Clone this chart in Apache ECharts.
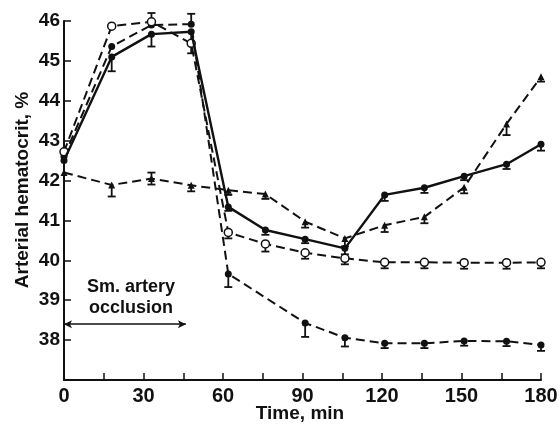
<!DOCTYPE html>
<html><head><meta charset="utf-8">
<script src="https://cdn.jsdelivr.net/npm/echarts@6/dist/echarts.min.js"></script>
<style>html,body{margin:0;padding:0;background:#fff}#c{width:559px;height:426px}</style>
</head><body><div id="c"></div>
<script>
// Sampling times (min)
const times = [0, 18, 33, 48, 62, 76, 91, 106, 121, 136, 151, 167, 180];

// Series values (arterial hematocrit, %)
const solidDots   = [42.50, 45.10, 45.67, 45.73, 41.34, 40.76, 40.53, 40.30, 41.64, 41.82, 42.11, 42.41, 42.91];
const openCircles = [42.72, 45.87, 45.98, 45.44, 40.70, 40.41, 40.19, 40.05, 39.95, 39.95, 39.94, 39.94, 39.95];
const dashedDots  = [42.60, 45.36, 45.90, 45.92, 39.66, null, 38.43, 38.06, 37.92, 37.92, 37.98, 37.97, 37.88];
const triangles   = [42.20, 41.89, 42.05, 41.88, 41.76, 41.66, 40.97, 40.55, 40.88, 41.09, 41.83, 43.42, 44.60];

// Error bars (minus / plus)
const solidMinus = [0, 0.36, 0.31, 0.30, 0.10, 0.12, 0.10, 0.15, 0.15, 0.13, 0.10, 0.12, 0.16];
const solidPlus  = [0, 0, 0, 0, 0, 0, 0, 0, 0, 0, 0, 0, 0];
const openMinus  = [0, 0, 0, 0.25, 0.15, 0.19, 0.15, 0.15, 0.15, 0.15, 0.15, 0.15, 0.15];
const openPlus   = [0, 0, 0.22, 0, 0, 0, 0, 0, 0, 0, 0, 0, 0];
const dashMinus  = [0, 0, 0, 0, 0.33, 0, 0.35, 0.22, 0.12, 0.12, 0.12, 0.12, 0.15];
const dashPlus   = [0, 0, 0, 0.26, 0, 0, 0, 0, 0, 0, 0, 0, 0];
const triMinus   = [0, 0.29, 0.15, 0.15, 0.12, 0.12, 0.15, 0.20, 0.17, 0.16, 0.15, 0.28, 0.12];
const triPlus    = [0, 0, 0.15, 0, 0, 0, 0, 0, 0, 0, 0, 0, 0];

// Occlusion period (min) and annotation level
const occlusion = [0, 46];
const occlusionLevel = 38.4;

const INK = '#111';
const FONT = '"Liberation Sans", Arial, Helvetica, sans-serif';

function pairs(vals) {
  const out = [];
  vals.forEach((v, i) => { if (v != null) out.push([times[i], v]); });
  return out;
}

function errSeries(vals, minus, plus) {
  const data = [];
  vals.forEach((v, i) => {
    if (v == null) return;
    if (!minus[i] && !plus[i]) return;
    data.push([times[i], v, v - minus[i], v + plus[i]]);
  });
  return {
    type: 'custom', silent: true, z: 1,
    renderItem: (params, api) => {
      const x = api.value(0), y = api.value(1), lo = api.value(2), hi = api.value(3);
      const pLo = api.coord([x, lo]), pHi = api.coord([x, hi]);
      const w = 4;
      const st = { stroke: INK, lineWidth: 1.8 };
      const ch = [{ type: 'line', shape: { x1: pLo[0], y1: pLo[1], x2: pHi[0], y2: pHi[1] }, style: st }];
      if (lo < y) ch.push({ type: 'line', shape: { x1: pLo[0] - w, y1: pLo[1], x2: pLo[0] + w, y2: pLo[1] }, style: st });
      if (hi > y) ch.push({ type: 'line', shape: { x1: pHi[0] - w, y1: pHi[1], x2: pHi[0] + w, y2: pHi[1] }, style: st });
      return { type: 'group', children: ch };
    },
    data
  };
}

const dash = [9, 5];

const chart = echarts.init(document.getElementById('c'));
chart.setOption({
  animation: false,
  backgroundColor: '#fff',
  grid: { left: 64, right: 18, top: 21, bottom: 46, containLabel: false, outerBoundsMode: 'none' },
  xAxis: {
    type: 'value', min: 0, max: 180, interval: 15,
    axisLine: { lineStyle: { color: INK, width: 2 } },
    axisTick: { inside: true, length: 7, lineStyle: { color: INK, width: 1.5 } },
    axisLabel: { formatter: v => (v % 30 === 0 ? String(v) : ''), fontFamily: FONT, fontWeight: 'bold', fontSize: 20, color: INK, margin: 6 },
    splitLine: { show: false }
  },
  yAxis: {
    type: 'value', min: 37, max: 46, interval: 1,
    axisLine: { show: true, lineStyle: { color: INK, width: 2 } },
    axisTick: { show: true, inside: true, length: 7, lineStyle: { color: INK, width: 1.5 } },
    axisLabel: { formatter: v => (v === 37 ? '' : String(v)), fontFamily: FONT, fontWeight: 'bold', fontSize: 19, color: INK, margin: 4 },
    splitLine: { show: false }
  },
  graphic: [
    { type: 'text', x: 23, y: 190, rotation: Math.PI / 2,
      style: { text: 'Arterial hematocrit, %', fill: INK, font: 'bold 19px ' + FONT, align: 'center', verticalAlign: 'middle' } },
    { type: 'text', x: 300, y: 414,
      style: { text: 'Time, min', fill: INK, font: 'bold 19px ' + FONT, align: 'center', verticalAlign: 'middle' } },
    { type: 'text', x: 131, y: 298,
      style: { text: 'Sm. artery\nocclusion', fill: INK, font: 'bold 18px ' + FONT, align: 'center', verticalAlign: 'middle', lineHeight: 21 } }
  ],
  series: [
    errSeries(solidDots, solidMinus, solidPlus),
    errSeries(openCircles, openMinus, openPlus),
    errSeries(dashedDots, dashMinus, dashPlus),
    errSeries(triangles, triMinus, triPlus),
    {
      type: 'line', data: pairs(triangles), z: 3,
      lineStyle: { color: INK, width: 2, type: dash },
      symbol: 'triangle', symbolSize: 7, itemStyle: { color: INK }
    },
    {
      type: 'line', data: pairs(dashedDots), z: 3,
      lineStyle: { color: INK, width: 2, type: dash },
      symbol: 'circle', symbolSize: 7, itemStyle: { color: INK },
      markLine: {
        silent: true, symbol: ['arrow', 'arrow'], symbolSize: [6, 8],
        label: { show: false },
        lineStyle: { color: INK, width: 1.5, type: 'solid' },
        data: [[{ coord: [occlusion[0], occlusionLevel] }, { coord: [occlusion[1], occlusionLevel] }]]
      }
    },
    {
      type: 'line', data: pairs(openCircles), z: 4,
      lineStyle: { color: INK, width: 2, type: dash },
      symbol: 'circle', symbolSize: 8, itemStyle: { color: '#fff', borderColor: INK, borderWidth: 1.5 }
    },
    {
      type: 'line', data: pairs(solidDots), z: 5,
      lineStyle: { color: INK, width: 2.4, type: 'solid' },
      symbol: 'circle', symbolSize: 7, itemStyle: { color: INK }
    }
  ]
});
</script>
</body></html>
